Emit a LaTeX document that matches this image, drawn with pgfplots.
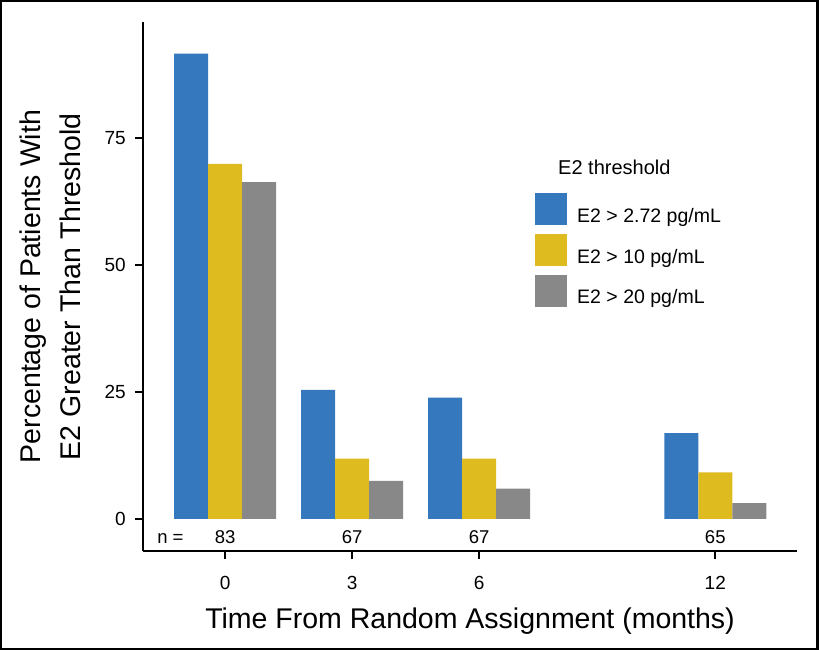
\documentclass[border=0pt]{standalone}
\usepackage{fontspec}
\setmainfont{Liberation Sans}
\usepackage{pgfplots}
\pgfplotsset{compat=1.18}
\definecolor{barblue}{RGB}{54,120,190}
\definecolor{baryellow}{RGB}{222,188,32}
\definecolor{bargrey}{RGB}{136,136,136}

\begin{document}
\begin{tikzpicture}
\useasboundingbox (-143pt,-99pt) rectangle (676pt,551pt);
\draw[line width=2.4pt] (-141.8pt,-97.8pt) rectangle (674.6pt,549.8pt);
\begin{axis}[
  x=127pt, y=5.08pt,
  xmin=-0.646, xmax=4.504, ymin=-6.3, ymax=97.8,
  axis x line*=bottom, axis y line*=left,
  axis line style={line width=1.6pt, -},
  ytick={0,25,50,75},
  xtick={0,1,2,3.86}, xticklabels={0,3,6,12},
  tick align=outside, major tick length=8pt,
  every tick/.style={black, line width=1.6pt},
  /pgf/number format/assume math mode=true,
  every tick label/.append style={font=\fontsize{19}{22}\selectfont},
  yticklabel style={anchor=east, inner sep=0pt, xshift=-9pt, font=\fontsize{19}{22}\selectfont},
  xticklabel style={anchor=base, inner sep=0pt, yshift=-30pt, font=\fontsize{19}{22}\selectfont},
  xlabel={Time From Random Assignment (months)},
  xlabel style={at={(axis description cs:0.5,0)}, anchor=base, yshift=-77pt, inner sep=0pt,
    font=\fontsize{28.5}{34}\selectfont},
  ylabel={Percentage of Patients With\\E2 Greater Than Threshold},
  ylabel style={at={(axis description cs:-0.142,0.5)}, anchor=center, align=center,
    font=\fontsize{28.5}{40}\selectfont},
  ybar=0pt, bar width=34pt,
  clip=false,
  legend style={draw=none, fill=none, inner sep=0pt, nodes={inner sep=0pt},
    at={(axis description cs:0.5994,0.6767)}, anchor=north west,
    row sep=8.6pt, column sep=10pt, font=\fontsize{19.5}{23}\selectfont},
  legend cell align=left,
  legend image code/.code={\fill[#1] (0pt,-9pt) rectangle (32pt,23pt);},
]
\addplot[fill=barblue, draw=none] coordinates {(0,91.6) (1,25.4) (2,23.9) (3.86,16.9)};
\addplot[fill=baryellow, draw=none] coordinates {(0,69.9) (1,11.9) (2,11.9) (3.86,9.2)};
\addplot[fill=bargrey, draw=none] coordinates {(0,66.3) (1,7.5) (2,6.0) (3.86,3.1)};
\legend{E2 > 2.72 pg/mL, E2 > 10 pg/mL, E2 > 20 pg/mL}

\node[anchor=base west, inner sep=0pt, font=\fontsize{20}{24}\selectfont] at (axis cs:2.622,67.9) {E2 threshold};
\node[anchor=base west, inner sep=0pt, font=\fontsize{18.5}{21}\selectfont] at (axis cs:-0.535,-4.92) {n =};
\node[anchor=base, inner sep=0pt, font=\fontsize{18.5}{21}\selectfont] at (axis cs:0,-4.92) {83};
\node[anchor=base, inner sep=0pt, font=\fontsize{18.5}{21}\selectfont] at (axis cs:1,-4.92) {67};
\node[anchor=base, inner sep=0pt, font=\fontsize{18.5}{21}\selectfont] at (axis cs:2,-4.92) {67};
\node[anchor=base, inner sep=0pt, font=\fontsize{18.5}{21}\selectfont] at (axis cs:3.86,-4.92) {65};
\end{axis}
\end{tikzpicture}
\end{document}
